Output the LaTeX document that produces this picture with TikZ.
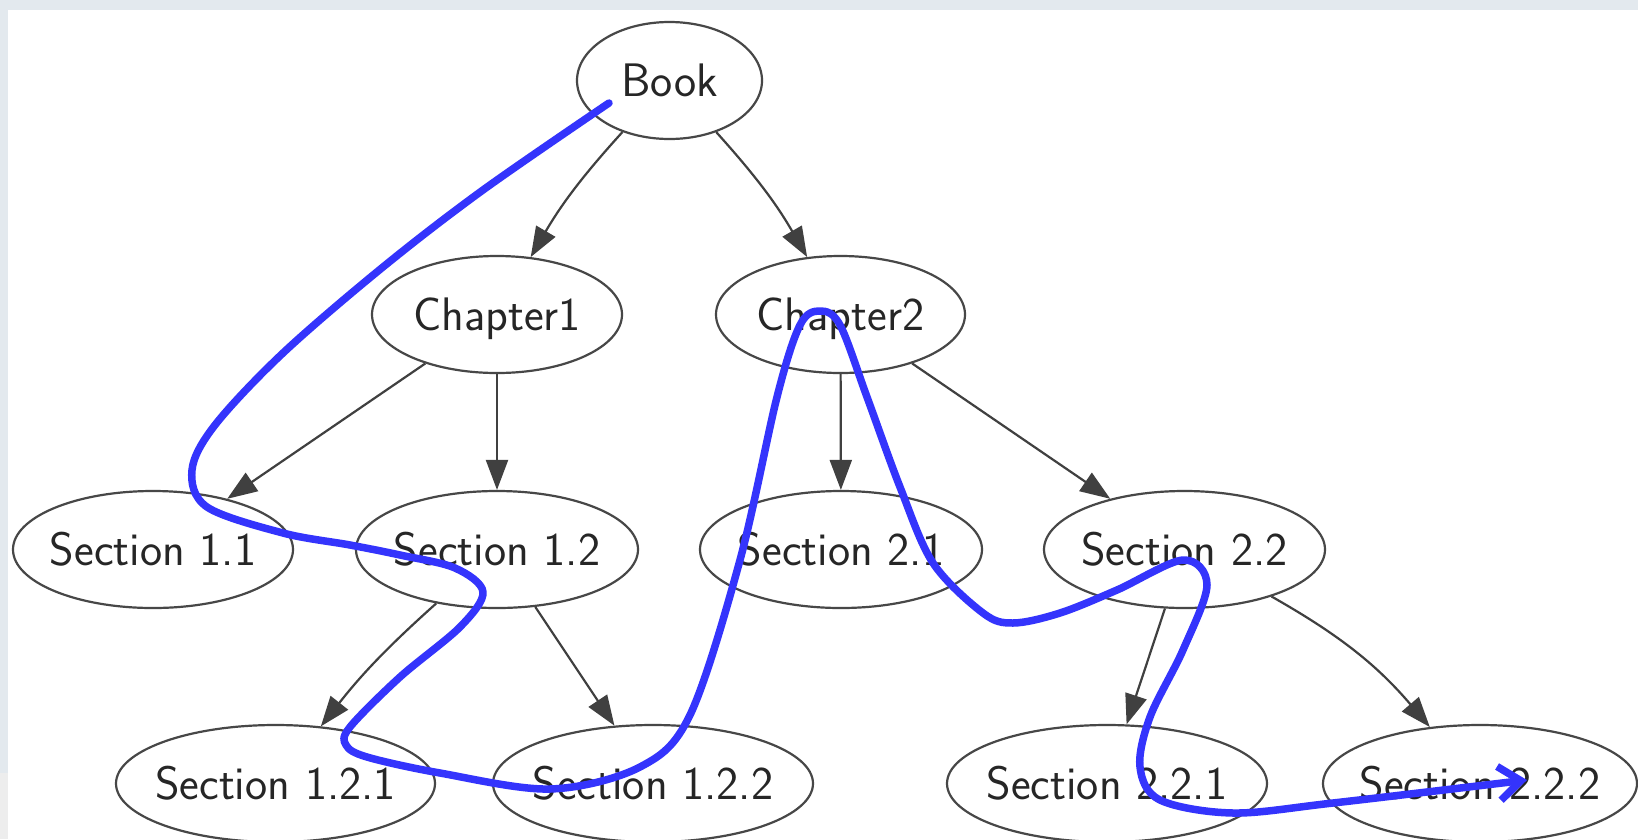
\documentclass[tikz,border=0pt]{standalone}
\usetikzlibrary{arrows.meta,shapes.geometric}

\definecolor{pen}{RGB}{52,52,252}
\definecolor{frame}{RGB}{227,233,238}

\begin{document}
\begin{tikzpicture}[x=1pt,y=-1pt,
  part/.style={ellipse,draw=black!72,line width=2.2pt,inner xsep=-24pt,
    minimum height=117pt,text=black!85,text height=32.5pt,text depth=0pt,
    font=\sffamily\fontsize{47}{56}\selectfont},
  link/.style={draw=black!75,line width=2.2pt,-{Triangle[length=30pt,width=22pt]}},
  trail/.style={draw=pen,line width=7.5pt,line cap=round,line join=round,
    -{Straight Barb[length=22pt,width=34pt]}}]

  \useasboundingbox (0,0) rectangle (1638,839);
  \fill[white] (0,0) rectangle (1638,839);
  \fill[frame] (0,0) rectangle (1638,10);
  \fill[frame] (0,0) rectangle (8,773);
  \fill[black!7] (0,773) rectangle (8,839);

  % the tree
  \node [part, minimum width=185pt] (book) at (669.5,80.5) {Book};
  \node [part, minimum width=250pt] (ch1)  at (497,314.5)  {Chapter1};
  \node [part, minimum width=249pt] (ch2)  at (840.5,314.5) {Chapter2};

  \node [part, minimum width=280pt] (s11) at (153,549.5)    {Section 1.1};
  \node [part, minimum width=282pt] (s12) at (497,549.5)    {Section 1.2};
  \node [part, minimum width=282pt] (s21) at (841,549.5)    {Section 2.1};
  \node [part, minimum width=281pt] (s22) at (1184.5,549.5) {Section 2.2};

  \node [part, minimum width=319pt] (s121) at (275.5,783.5) {Section 1.2.1};
  \node [part, minimum width=320pt] (s122) at (653,783.5)   {Section 1.2.2};
  \node [part, minimum width=320pt] (s221) at (1107,783.5)  {Section 2.2.1};
  \node [part, minimum width=314pt] (s222) at (1480,783.5)  {Section 2.2.2};

  \draw [link] (book) to[bend right=6] (ch1);
  \draw [link] (book) to[bend left=6] (ch2);
  \draw [link] (ch1) -- (s11);
  \draw [link] (ch1) -- (s12);
  \draw [link] (ch2) -- (s21);
  \draw [link] (ch2) -- (s22);
  \draw [link] (s12) to[bend right=5] (s121);
  \draw [link] (s12) -- (s122);
  \draw [link] (s22) -- (s221);
  \draw [link] (s22) to[bend left=10] (s222);

  % hand drawn walk
  \draw [trail] plot[smooth,tension=0.55] coordinates {
    (609,103) (483,190) (383,267) (283,353) (215,425) (192,470) (207,507)
    (283,533) (350,545) (400,555) (455,568) (483,592) (460,627) (400,677)
    (350,727) (346,745) (367,757) (440,773) (550,789) (640,767) (690,715)
    (740,560) (777,397) (800,325) (820,311) (840,325) (867,397) (900,487)
    (933,563) (983,613) (1013,623) (1060,613) (1117,590) (1183,560)
    (1207,585) (1183,650) (1150,717) (1140,767) (1160,800) (1233,813)
    (1333,803) (1527,780)};
\end{tikzpicture}
\end{document}
